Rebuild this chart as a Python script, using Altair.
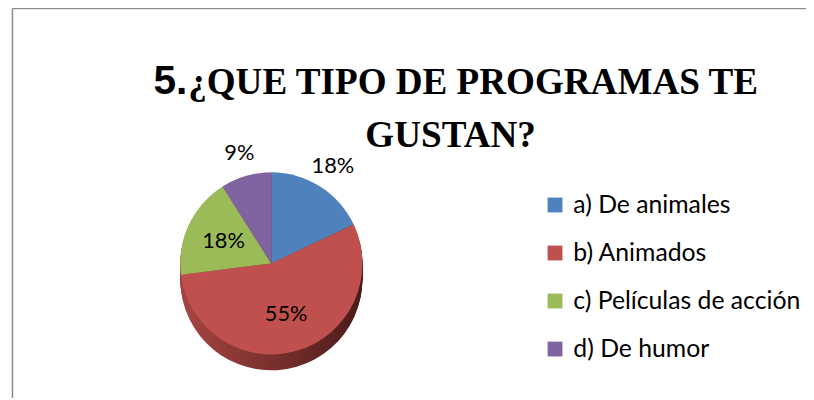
import altair as alt
import pandas as pd

# ---- data ----
categories = ["a) De animales", "b) Animados", "c) Películas de acción", "d) De humor"]
percentages = [18, 55, 18, 9]
colors = ["#4F81BD", "#C0504D", "#9BBB59", "#8064A2"]
outside_labels = ["a) De animales", "d) De humor"]
title_number = "5."
title_line1 = "¿QUE TIPO DE PROGRAMAS TE"
title_line2 = "GUSTAN?"

df = pd.DataFrame({"cat": categories, "pct": percentages, "order": list(range(len(categories)))})
df["label"] = df["pct"].astype(str) + "%"

# ---- layout (view origin is at page (8, 12)) ----
W, H = 806, 388
CX, CY = 266, 252
R = 92
DEPTH = 16

base = alt.Chart(df).encode(
    theta=alt.Theta("pct:Q", stack=True),
    order=alt.Order("order:Q"),
)

side_grad = alt.LinearGradient(
    gradient="linear", x1=0, y1=0, x2=1, y2=0,
    stops=[
        alt.GradientStop(offset=0, color="#A54542"),
        alt.GradientStop(offset=0.5, color="#7B302E"),
        alt.GradientStop(offset=1, color="#4A1B1A"),
    ],
)

sides = [
    base.mark_arc(radius=R, color=side_grad, yOffset=k).encode(x=alt.value(CX), y=alt.value(CY))
    for k in range(DEPTH, 0, -1)
]

top = base.mark_arc(radius=R).encode(
    x=alt.value(CX),
    y=alt.value(CY),
    color=alt.Color(
        "cat:N",
        scale=alt.Scale(domain=categories, range=colors),
        legend=alt.Legend(
            title=None, orient="none", legendX=540, legendY=180.5,
            symbolType="square", symbolSize=225, symbolStrokeWidth=0,
            labelFont="Lato", labelFontSize=25, labelColor="black",
            labelLimit=400, rowPadding=22.5, labelOffset=6,
        ),
    ),
)

is_out = alt.FieldOneOfPredicate(field="cat", oneOf=outside_labels)

labels_out = base.mark_text(radius=R + 24, font="Lato", fontSize=22, color="black").encode(
    x=alt.value(CX), y=alt.value(CY),
    text=alt.condition(is_out, "label:N", alt.value("")),
)
labels_in = base.mark_text(radius=R * 0.58, font="Lato", fontSize=22, color="black").encode(
    x=alt.value(CX), y=alt.value(CY),
    text=alt.condition(is_out, alt.value(""), "label:N"),
)

t_num = alt.Chart(pd.DataFrame({"t": [title_number]})).mark_text(
    align="left", baseline="alphabetic", font="Liberation Sans", fontWeight="bold", fontSize=41, color="black"
).encode(x=alt.value(147), y=alt.value(81), text="t:N")
t_l1 = alt.Chart(pd.DataFrame({"t": [title_line1]})).mark_text(
    align="left", baseline="alphabetic", font="Liberation Serif", fontWeight="bold", fontSize=37.5, color="black"
).encode(x=alt.value(182), y=alt.value(81), text="t:N")
t_l2 = alt.Chart(pd.DataFrame({"t": [title_line2]})).mark_text(
    align="center", baseline="alphabetic", font="Liberation Serif", fontWeight="bold", fontSize=37.5, color="black"
).encode(x=alt.value(447), y=alt.value(134), text="t:N")

frame = alt.Chart(pd.DataFrame({"k": [0]}))
border_top = frame.mark_rule(color="#8C8C8C", strokeWidth=1.5).encode(
    x=alt.value(4.5), x2=alt.value(W), y=alt.value(-5.5)
)
border_left = frame.mark_rule(color="#8C8C8C", strokeWidth=1.5).encode(
    x=alt.value(4.5), y=alt.value(-5.5), y2=alt.value(H)
)

chart = alt.layer(
    border_top, border_left, *sides, top, labels_out, labels_in, t_num, t_l1, t_l2
).properties(
    width=W, height=H, autosize="none", background="white",
    padding={"left": 0, "top": 4, "right": 0, "bottom": 0},
).configure_view(stroke=None)

chart.save("out.html", embed_options={"renderer": "svg", "actions": False})
